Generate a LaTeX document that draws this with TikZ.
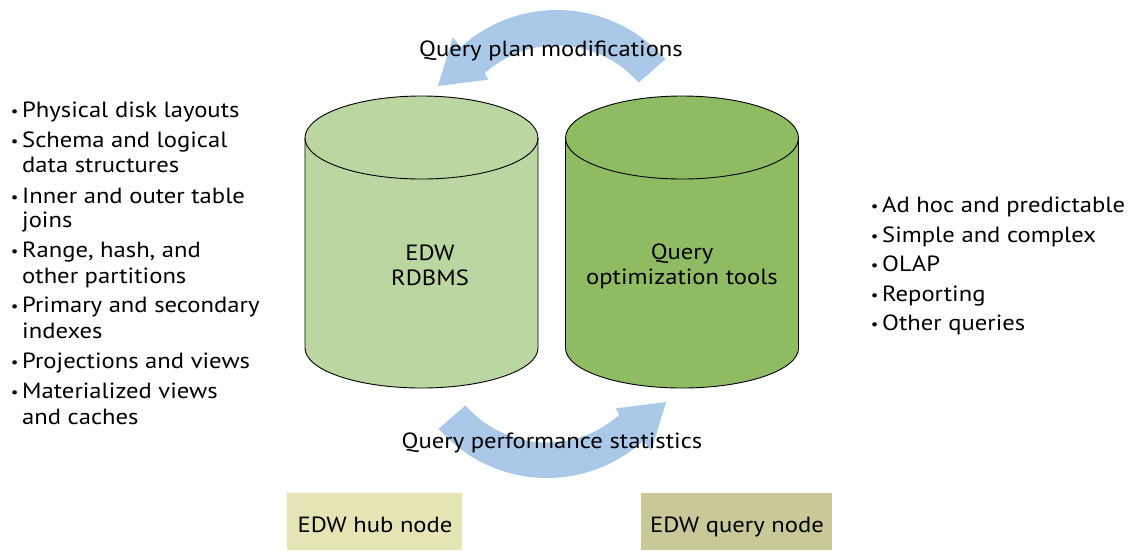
\documentclass[tikz,border=0pt]{standalone}
\usepackage{fontspec}
\setmainfont{PT Sans}[FakeStretch=1.12]

\definecolor{rdbms}{RGB}{187,214,160}
\definecolor{qtool}{RGB}{143,187,99}
\definecolor{hubfill}{RGB}{228,228,180}
\definecolor{qnodefill}{RGB}{200,200,152}
\definecolor{flow}{RGB}{170,200,232}

\tikzset{
  txt/.style={font=\fontsize{22}{26}\selectfont, inner sep=0pt},
  item/.style={txt, anchor=base west},
  tag/.style={txt, anchor=base},
  nodebox/.style={draw=none, inner sep=0pt, minimum height=57pt},
  % database drum, origin at the centre of the top ellipse
  pics/dbdrum/.style={code={
    \filldraw[fill=#1, draw=black, line width=0.9pt]
      (-116.5,0) -- (-116.5,210)
      arc[start angle=180, end angle=0, x radius=116.5, y radius=40]
      -- (116.5,0)
      arc[start angle=0, end angle=-180, x radius=116.5, y radius=42]
      -- cycle;
    \draw[line width=0.9pt] (-116.5,0)
      arc[start angle=180, end angle=0, x radius=116.5, y radius=41];
  }},
  % curved block arrow, drawn with local y pointing up
  pics/swoop/.style={code={
    \fill[flow] (41:108) -- (41:143.5)
      arc[start angle=41, end angle=132, radius=143.5]
      -- (132:156) -- (-119,67.5) -- (133:101) -- (132:108)
      arc[start angle=132, end angle=41, radius=108] -- cycle;
  }}
}

% small list bullet in a fixed-width slot
\newcommand{\bul}{\makebox[15pt][c]{\raisebox{1pt}{\fontsize{15}{15}\selectfont •}}}

\begin{document}
\begin{tikzpicture}[x=1pt, y=-1pt]
\useasboundingbox (0,0) rectangle (1134,550);

% feedback arrows
\pic[yscale=-1] at (557,153.5) {swoop};
\pic[xscale=-1] at (547,334.5) {swoop};

% databases
\pic at (421.5,138) {dbdrum=rdbms};
\pic at (682,138) {dbdrum=qtool};
\node[tag] (rdb1) at (430,260) {EDW};
\node[tag] (rdb2) at (430,285) {RDBMS};
\node[tag] (opt1) at (682,259) {Query};
\node[tag] (opt2) at (682,284) {optimization tools};

% arrow labels
\node[tag] (plan) at (551,56) {Query plan modifications};
\node[tag] (perf) at (552,448) {Query performance statistics};

% node boxes
\node[nodebox, fill=hubfill, minimum width=175pt] (hub) at (374.5,521.5) {};
\node[tag] (hubtxt) at (375,532) {EDW hub node};
\node[nodebox, fill=qnodefill, minimum width=191pt] (qnode) at (736.5,521.5) {};
\node[tag] (qnodetxt) at (737,532) {EDW query node};

% left list
\node[item] (l1)  at (7,117) {\bul Physical disk layouts};
\node[item] (l2)  at (7,147) {\bul Schema and logical};
\node[item] (l2b) at (22,172) {data structures};
\node[item] (l3)  at (7,203) {\bul Inner and outer table};
\node[item] (l3b) at (22,227) {joins};
\node[item] (l4)  at (7,257) {\bul Range, hash, and};
\node[item] (l4b) at (22,283) {other partitions};
\node[item] (l5)  at (7,312) {\bul Primary and secondary};
\node[item] (l5b) at (22,338) {indexes};
\node[item] (l6)  at (7,368) {\bul Projections and views};
\node[item] (l7)  at (7,398) {\bul Materialized views};
\node[item] (l7b) at (22,424) {and caches};

% right list
\node[item] (r1) at (867,212) {\bul Ad hoc and predictable};
\node[item] (r2) at (867,242) {\bul Simple and complex};
\node[item] (r3) at (867,271) {\bul OLAP};
\node[item] (r4) at (867,301) {\bul Reporting};
\node[item] (r5) at (867,330) {\bul Other queries};
\end{tikzpicture}
\end{document}
